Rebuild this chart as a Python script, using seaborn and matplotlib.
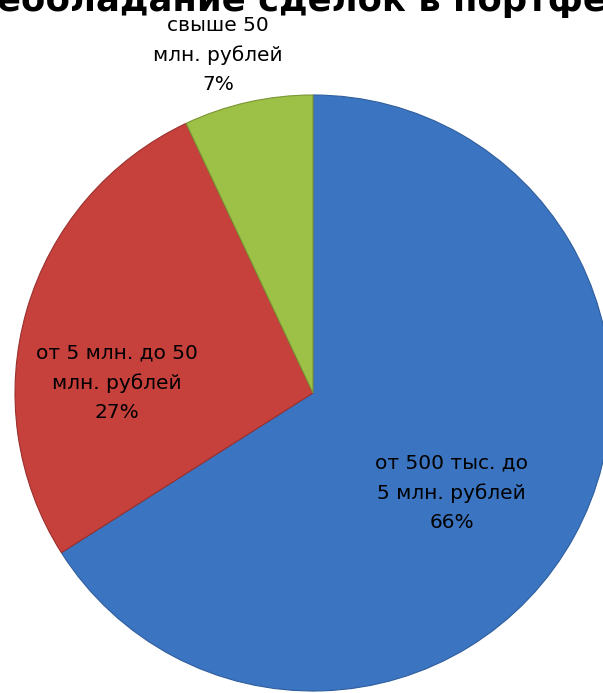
import matplotlib
matplotlib.use("Agg")
import matplotlib.pyplot as plt
import seaborn as sns

# ------------------------------------------------------------
# Data
# ------------------------------------------------------------
categories = ["от 500 тыс. до\n5 млн. рублей",
              "от 5 млн. до 50\nмлн. рублей",
              "свыше 50\nмлн. рублей"]
shares = [66, 27, 7]
title_text = "Преобладание сделок в портфеле"

colors = ["#3B74C0", "#C6403C", "#9DC046"]
edges = ["#2F5E9E", "#9A302D", "#7A9635"]
# label centres, in units of the pie radius
label_pos = [(0.466, -0.336), (-0.658, 0.034), (-0.319, 1.134)]

# ------------------------------------------------------------
# Style
# ------------------------------------------------------------
sns.set_style("white")
plt.rcParams["font.family"] = ["DejaVu Sans"]

W, H = 603, 693
fig = plt.figure(figsize=(W / 100, H / 100), dpi=100)

# pie centre (313, 393) px from top-left, radius 298 px
cx, cy, r = 313, 393, 298
ax = fig.add_axes([(cx - r) / W, (H - cy - r) / H, 2 * r / W, 2 * r / H])

wedges, texts = ax.pie(shares, colors=colors, startangle=90, counterclock=False,
                       radius=1.0, labels=[f"{c}\n{s}%" for c, s in zip(categories, shares)],
                       labeldistance=0.6,
                       wedgeprops=dict(linewidth=0.8))
for w, ec in zip(wedges, edges):
    w.set_edgecolor(ec)
for t, (lx, ly) in zip(texts, label_pos):
    t.set_position((lx, ly))
    t.set_ha("center")
    t.set_va("center")
    t.set_multialignment("center")
    t.set_fontsize(14.5)
    t.set_linespacing(1.68)
    t.set_color("black")
    t.set_clip_on(False)

ax.set_xlim(-1, 1)
ax.set_ylim(-1, 1)
ax.set_aspect("equal")
ax.axis("off")

# ------------------------------------------------------------
# Title, cut off by the top / sides of the image
# ------------------------------------------------------------
fig.canvas.draw()
renderer = fig.canvas.get_renderer()
probe = fig.text(0, 0, "Пр", fontsize=25.5, fontweight="bold")
shift = probe.get_window_extent(renderer).width
probe.remove()
fig.text(-(shift + 3) / W, 1 - 11 / H, title_text, fontsize=25.5, fontweight="bold",
         ha="left", va="baseline", color="black")

fig.savefig("out.png", dpi=100)
